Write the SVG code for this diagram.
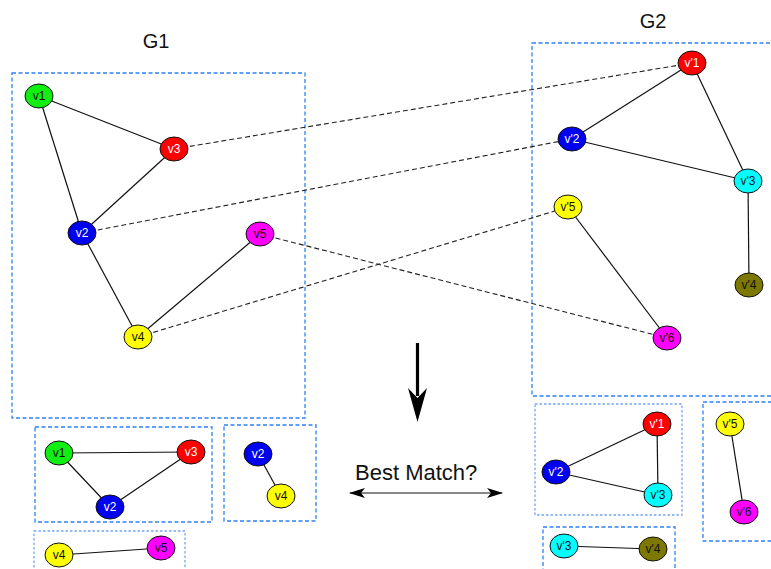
<svg xmlns="http://www.w3.org/2000/svg" width="771" height="569" viewBox="0 0 771 569">
  <style>
    .box { fill: none; stroke: #2f80f5; stroke-width: 1.3; stroke-dasharray: 4 2.5; }
    .box-light { fill: none; stroke: #72a8f5; stroke-width: 1.3; stroke-dasharray: 2.5 2; }
    .edge { stroke: #111; stroke-width: 1.2; fill: none; }
    .match { stroke: #222; stroke-width: 1.1; stroke-dasharray: 5 3; fill: none; }
    .node ellipse { stroke: #111; stroke-width: 1; }
    .node text { font-family: "Liberation Sans", Arial, sans-serif; font-size: 12px; text-anchor: middle; dominant-baseline: central; }
    .dark text { fill: #fff; }
    .light text { fill: #111; }
    .title { font-family: "Liberation Sans", Arial, sans-serif; font-size: 20px; fill: #111; text-anchor: middle; }
    .caption { font-family: "Liberation Sans", Arial, sans-serif; font-size: 22px; fill: #111; }
  </style>
  <defs>
    <marker id="head" viewBox="0 0 16 10" refX="15" refY="5" markerWidth="16" markerHeight="10" markerUnits="userSpaceOnUse" orient="auto-start-reverse">
      <path d="M0,0 L16,5 L0,10 L4,5 Z" fill="#000"/>
    </marker>
  </defs>

  <rect width="771" height="569" fill="#fff"/>

  <!-- frames -->
  <rect class="box" x="12" y="73" width="293" height="345"/>
  <rect class="box" x="532" y="43" width="242" height="353"/>
  <rect class="box" x="35" y="427" width="177" height="95"/>
  <rect class="box" x="224" y="425" width="92" height="96"/>
  <rect class="box-light" x="34" y="531" width="151" height="45"/>
  <rect class="box-light" x="535" y="404" width="147" height="111"/>
  <rect class="box" x="703" y="402" width="72" height="139"/>
  <rect class="box" x="543" y="527" width="132" height="50"/>

  <text class="title" x="156" y="48">G1</text>
  <text class="title" x="653" y="28">G2</text>

  <g id="connectors">
    <!-- G1 edges -->
    <line class="edge" x1="39" y1="96" x2="174" y2="149"/>
    <line class="edge" x1="39" y1="96" x2="82" y2="233"/>
    <line class="edge" x1="174" y1="149" x2="82" y2="233"/>
    <line class="edge" x1="82" y1="233" x2="138" y2="337"/>
    <line class="edge" x1="138" y1="337" x2="260" y2="234"/>
    <!-- G2 edges -->
    <line class="edge" x1="692" y1="63" x2="572" y2="139"/>
    <line class="edge" x1="692" y1="63" x2="748" y2="181"/>
    <line class="edge" x1="572" y1="139" x2="748" y2="181"/>
    <line class="edge" x1="748" y1="181" x2="749" y2="285"/>
    <line class="edge" x1="568" y1="207" x2="667" y2="338"/>
    <!-- correspondences -->
    <line class="match" x1="174" y1="149" x2="692" y2="63"/>
    <line class="match" x1="82" y1="233" x2="572" y2="139"/>
    <line class="match" x1="138" y1="337" x2="568" y2="207"/>
    <line class="match" x1="260" y1="234" x2="667" y2="338"/>
    <!-- subgraph edges -->
    <line class="edge" x1="59" y1="453" x2="191" y2="452"/>
    <line class="edge" x1="59" y1="453" x2="110" y2="507"/>
    <line class="edge" x1="191" y1="452" x2="110" y2="507"/>
    <line class="edge" x1="258" y1="454" x2="281" y2="496"/>
    <line class="edge" x1="59" y1="555" x2="161" y2="548"/>
    <line class="edge" x1="657" y1="424" x2="556" y2="472"/>
    <line class="edge" x1="657" y1="424" x2="658" y2="495"/>
    <line class="edge" x1="556" y1="472" x2="658" y2="495"/>
    <line class="edge" x1="730" y1="424" x2="744" y2="512"/>
    <line class="edge" x1="564" y1="546" x2="653" y2="549"/>
    <!-- arrows -->
    <line x1="417.5" y1="343" x2="417.5" y2="396" stroke="#000" stroke-width="3.2"/>
    <path d="M417.5,422 L427,388 L417.5,398 L408,388 Z" fill="#000"/>
    <line x1="350" y1="493" x2="502" y2="493" stroke="#111" stroke-width="1.2" marker-start="url(#head)" marker-end="url(#head)"/>
  </g>

  <text class="caption" x="355" y="480">Best Match?</text>

  <!-- G1 nodes -->
  <g id="g1-v1" class="node light"><ellipse cx="39" cy="96" rx="14" ry="12" fill="#11ee11"/><text x="39" y="96">v1</text></g>
  <g id="g1-v3" class="node dark"><ellipse cx="174" cy="149" rx="14" ry="12" fill="#ff0000"/><text x="174" y="149">v3</text></g>
  <g id="g1-v2" class="node dark"><ellipse cx="82" cy="233" rx="14" ry="12" fill="#0000f0"/><text x="82" y="233">v2</text></g>
  <g id="g1-v5" class="node light"><ellipse cx="260" cy="234" rx="14" ry="12" fill="#ff00ff"/><text x="260" y="234">v5</text></g>
  <g id="g1-v4" class="node light"><ellipse cx="138" cy="337" rx="14" ry="12" fill="#ffff00"/><text x="138" y="337">v4</text></g>

  <!-- G2 nodes -->
  <g id="g2-v1" class="node dark"><ellipse cx="692" cy="63" rx="14" ry="12" fill="#ff0000"/><text x="692" y="63">v'1</text></g>
  <g id="g2-v2" class="node dark"><ellipse cx="572" cy="139" rx="14" ry="12" fill="#0000f0"/><text x="572" y="139">v'2</text></g>
  <g id="g2-v3" class="node light"><ellipse cx="748" cy="181" rx="14" ry="12" fill="#00ffff"/><text x="748" y="181">v'3</text></g>
  <g id="g2-v4" class="node light"><ellipse cx="749" cy="285" rx="14" ry="12" fill="#7d7800"/><text x="749" y="285">v'4</text></g>
  <g id="g2-v5" class="node light"><ellipse cx="568" cy="207" rx="14" ry="12" fill="#ffff00"/><text x="568" y="207">v'5</text></g>
  <g id="g2-v6" class="node light"><ellipse cx="667" cy="338" rx="14" ry="12" fill="#ff00ff"/><text x="667" y="338">v'6</text></g>

  <!-- G1 subgraphs -->
  <g id="s1-v1" class="node light"><ellipse cx="59" cy="453" rx="14" ry="12" fill="#11ee11"/><text x="59" y="453">v1</text></g>
  <g id="s1-v3" class="node dark"><ellipse cx="191" cy="452" rx="14" ry="12" fill="#ff0000"/><text x="191" y="452">v3</text></g>
  <g id="s1-v2" class="node dark"><ellipse cx="110" cy="507" rx="14" ry="12" fill="#0000f0"/><text x="110" y="507">v2</text></g>
  <g id="s2-v2" class="node dark"><ellipse cx="258" cy="454" rx="14" ry="12" fill="#0000f0"/><text x="258" y="454">v2</text></g>
  <g id="s2-v4" class="node light"><ellipse cx="281" cy="496" rx="14" ry="12" fill="#ffff00"/><text x="281" y="496">v4</text></g>
  <g id="s3-v4" class="node light"><ellipse cx="59" cy="555" rx="14" ry="12" fill="#ffff00"/><text x="59" y="555">v4</text></g>
  <g id="s3-v5" class="node light"><ellipse cx="161" cy="548" rx="14" ry="12" fill="#ff00ff"/><text x="161" y="548">v5</text></g>

  <!-- G2 subgraphs -->
  <g id="t1-v1" class="node dark"><ellipse cx="657" cy="424" rx="14" ry="12" fill="#ff0000"/><text x="657" y="424">v'1</text></g>
  <g id="t1-v2" class="node dark"><ellipse cx="556" cy="472" rx="14" ry="12" fill="#0000f0"/><text x="556" y="472">v'2</text></g>
  <g id="t1-v3" class="node light"><ellipse cx="658" cy="495" rx="14" ry="12" fill="#00ffff"/><text x="658" y="495">v'3</text></g>
  <g id="t2-v5" class="node light"><ellipse cx="730" cy="424" rx="14" ry="12" fill="#ffff00"/><text x="730" y="424">v'5</text></g>
  <g id="t2-v6" class="node light"><ellipse cx="744" cy="512" rx="14" ry="12" fill="#ff00ff"/><text x="744" y="512">v'6</text></g>
  <g id="t3-v3" class="node light"><ellipse cx="564" cy="546" rx="14" ry="12" fill="#00ffff"/><text x="564" y="546">v'3</text></g>
  <g id="t3-v4" class="node light"><ellipse cx="653" cy="549" rx="14" ry="12" fill="#7d7800"/><text x="653" y="549">v'4</text></g>
</svg>
